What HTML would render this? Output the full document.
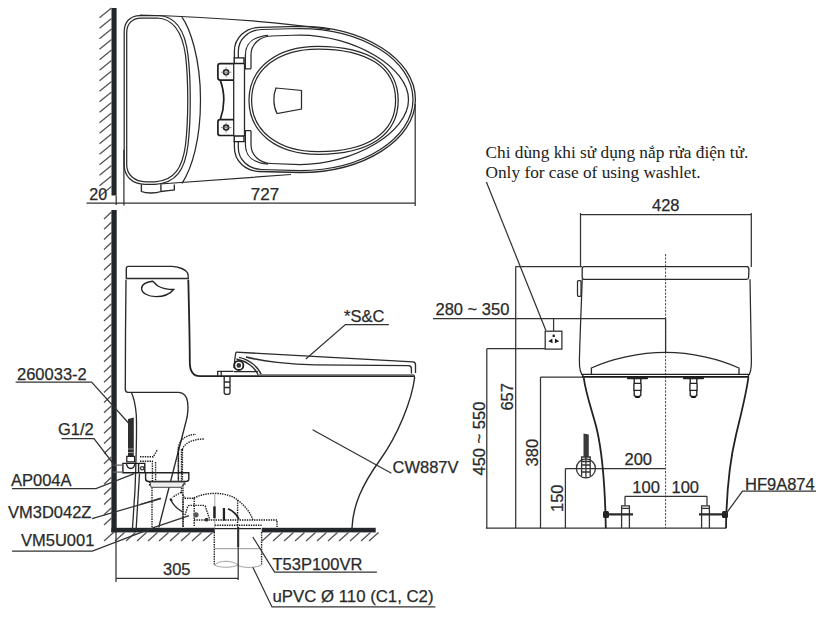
<!DOCTYPE html>
<html><head><meta charset="utf-8"><style>
html,body{margin:0;padding:0;background:#fff;}
svg{display:block;}
text{font-family:"Liberation Sans",sans-serif;fill:#2a2a2a;stroke:#2a2a2a;stroke-width:0.25px;}
.serif{font-family:"Liberation Serif",serif;stroke-width:0;fill:#222;}
</style></head><body>
<svg width="822" height="626" viewBox="0 0 822 626">
<rect width="822" height="626" fill="#fff"/>
<rect x="111.5" y="8" width="5.1" height="187.5" fill="#23262a"/>
<path d="M99.5 17.8L111.5 8.0M99.5 28.3L111.5 18.5M99.5 38.8L111.5 29.0M99.5 49.3L111.5 39.5M99.5 59.8L111.5 50.0M99.5 70.3L111.5 60.5M99.5 80.8L111.5 71.0M99.5 91.3L111.5 81.5M99.5 101.8L111.5 92.0M99.5 112.3L111.5 102.5M99.5 122.8L111.5 113.0M99.5 133.3L111.5 123.5M99.5 143.8L111.5 134.0M99.5 154.3L111.5 144.5M99.5 164.8L111.5 155.0M99.5 175.3L111.5 165.5M99.5 185.8L111.5 176.0M99.5 196.3L111.5 186.5" stroke="#555" stroke-width="1.3"/>
<path d="M86.5 203.2H415M116.2 195.5V205M123.9 150V205.5M415.2 104V206" stroke="#333" stroke-width="1.25"/>
<text x="89.3" y="199.5" font-size="16">20</text>
<text x="250.8" y="200" font-size="17">727</text>
<path d="M124.2 160V32C124.2 22 130 15.5 140 15.5H158C175 16 185 30 188 55C191 80 191 120 188 145C185 170 176 183 155 184.3H145C132 184.3 124.2 176 124.2 165Z" stroke="#2a2a2a" stroke-width="1.25" fill="none"/>
<path d="M126.7 160V33C126.7 24 132 18 141 18H157C172 18.5 182 31 185.5 55C188.5 80 188.5 120 185.5 145C182.5 168 174 181 155 181.8H146C134 181.8 126.7 174 126.7 165Z" stroke="#2a2a2a" stroke-width="1.25" fill="none"/>
<path d="M140 15Q250 18 330 29.6M181.3 16.2C190 28 200.5 58 200.5 100C200.5 140 192 168 182 183.5M160 184L291 174.5" stroke="#2a2a2a" stroke-width="1.25" fill="none"/>
<path d="M141.4 184.6V191.5C146 193.5 156 193.5 160.9 191.5V184.6M160.9 191.5C165 191 170 190.5 174.3 190V184.6" stroke="#2a2a2a" stroke-width="1.35" fill="none"/>
<path d="M234.4 57.900000000000006V51.3C234.4 37.55 245.65 27.8 259.4 27.3L300 26.3C363.73542 26.3 415.4 59.02687 415.4 99.4C415.4 139.77313 363.73542 172.5 300 172.5L259.4 171.5C245.65 171.0 234.4 161.25 234.4 147.5V140.9" stroke="#2a2a2a" stroke-width="1.3" fill="none"/>
<path d="M238.3 58.0V51.5C238.3 38.85 248.65 30.0 261.3 29.5L300 28.5C362.4099 28.5 413 60.286699999999996 413 99.5C413 138.7133 362.4099 170.5 300 170.5L261.3 169.5C248.65 169.0 238.3 160.15 238.3 147.5V141.0" stroke="#2a2a2a" stroke-width="1.25" fill="none"/>
<path d="M251 68.75V55C251 44.0 260.0 36.5 271 36L300 35C354.25 35 408.5 67.375 408.5 99.75C408.5 132.125 354.25 164.5 300 164.5L271 163.5C260.0 163.0 251 155.5 251 144.5V130.75" stroke="#2a2a2a" stroke-width="1.25" fill="none"/>
<path d="M251 68.8H245.4V55C245.4 44 251 37 268 35.3M251 130.7H245.4V144.5C245.4 155.5 251 162.5 268 164.2" stroke="#2a2a2a" stroke-width="1.25" fill="none"/>
<path d="M233.7 63.5V136M244.5 63.5V136" stroke="#2a2a2a" stroke-width="1.3" fill="none"/>
<path d="M234.2 57.9H244V63.5H234.2ZM234.2 136H244V141.6H234.2Z" stroke="#1e1e1e" stroke-width="1.4" fill="none"/>
<path d="M233.7 63.6H220.2Q217.9 63.6 217.9 65.9V77.8Q217.9 80.1 220.2 80.1C222.8 87 223.8 93 223.8 99.8C223.8 106.5 222.8 112.5 220.2 119.7Q217.9 119.7 217.9 122V133.2Q217.9 135.5 220.2 135.5H233.7M220.2 80.1H233.7M220.2 119.7H233.7" stroke="#1e1e1e" stroke-width="1.7" fill="none"/>
<circle cx="226.1" cy="72.2" r="2.5" stroke="#1e1e1e" stroke-width="1.6" fill="none"/><circle cx="226.1" cy="127.6" r="2.5" stroke="#1e1e1e" stroke-width="1.6" fill="none"/>
<path d="M221 72.2H231.5M226.1 67V77.5M221 127.6H231.5M226.1 122.4V132.8" stroke="#666" stroke-width="0.7"/>
<path d="M249 100.3C249 67.96000000000001 276.6 46.4 318 46.4C369.328 46.4 398.2 65.804 398.2 100.3C398.2 134.86 369.328 154.3 318 154.3C276.6 154.3 249 132.7 249 100.3Z" stroke="#2a2a2a" stroke-width="1.25" fill="none"/>
<path d="M251.6 100.3C251.6 69.52 278.15999999999997 49 318 49C367.664 49 395.6 67.46799999999999 395.6 100.3C395.6 133.196 367.664 151.7 318 151.7C278.15999999999997 151.7 251.6 131.14 251.6 100.3Z" stroke="#2a2a2a" stroke-width="1.25" fill="none"/>
<path d="M276 88L301.5 90.5V109L277 113.5C273 106 273 95 276 88Z" stroke="#2a2a2a" stroke-width="1.25" fill="none"/>
<rect x="111.4" y="210" width="5.3" height="322.4" fill="#23262a"/>
<path d="M104.0 219.0L111.5 212.0M104.0 229.2L111.5 222.2M104.0 239.4L111.5 232.4M104.0 249.6L111.5 242.6M104.0 259.8L111.5 252.8M104.0 270.0L111.5 263.0M104.0 280.2L111.5 273.2M104.0 290.4L111.5 283.4M104.0 300.6L111.5 293.6M104.0 310.8L111.5 303.8M104.0 321.0L111.5 314.0M104.0 331.2L111.5 324.2M104.0 341.4L111.5 334.4M104.0 351.6L111.5 344.6M104.0 361.8L111.5 354.8M104.0 372.0L111.5 365.0M104.0 382.2L111.5 375.2M104.0 392.4L111.5 385.4M104.0 402.6L111.5 395.6M104.0 412.8L111.5 405.8M104.0 423.0L111.5 416.0M104.0 433.2L111.5 426.2M104.0 443.4L111.5 436.4M104.0 453.6L111.5 446.6M104.0 463.8L111.5 456.8M104.0 474.0L111.5 467.0M104.0 484.2L111.5 477.2M104.0 494.4L111.5 487.4M104.0 504.6L111.5 497.6M104.0 514.8L111.5 507.8M104.0 525.0L111.5 518.0" stroke="#555" stroke-width="1.3"/>
<rect x="111.4" y="527.8" width="103.4" height="4.6" fill="#23262a"/><rect x="261.7" y="527.8" width="114" height="4.6" fill="#23262a"/>
<path d="M104.0 541L113.5 532.5M115.0 541L124.5 532.5M126.0 541L135.5 532.5M137.0 541L146.5 532.5M148.0 541L157.5 532.5M159.0 541L168.5 532.5M170.0 541L179.5 532.5M181.0 541L190.5 532.5M192.0 541L201.5 532.5M203.0 541L212.5 532.5M262.0 541L271.5 532.5M273.0 541L282.5 532.5M284.0 541L293.5 532.5M295.0 541L304.5 532.5M306.0 541L315.5 532.5M317.0 541L326.5 532.5M328.0 541L337.5 532.5M339.0 541L348.5 532.5M350.0 541L359.5 532.5M361.0 541L370.5 532.5M369.0 541L378.5 532.5" stroke="#555" stroke-width="1.3"/>
<path d="M126.3 278.5V268.5C126.3 267 127 266.4 128.5 266.4H172C180 267 186 270 187.6 273C188.3 275 188.3 277 188.3 278.5Z" stroke="#2a2a2a" stroke-width="1.4" fill="none"/>
<path d="M126 279.8C125.6 310 125.3 360 125.3 389C125.3 391.5 126 392.4 128 392.4H178.8C183 392.6 186.5 395.5 187.6 402C188.5 410 188 414 186.4 420" stroke="#2a2a2a" stroke-width="1.35" fill="none"/>
<path d="M188.3 279.8C189 310 189.8 340 189.8 362C189.8 371 193 376.2 200 376.2H415" stroke="#222" stroke-width="1.8" fill="none"/>
<path d="M152.6 281.2C147 281.5 141.6 284.5 141.6 288.5C141.6 293 148 296.6 156 296.6C163 296.6 170 294 173.7 289.5C169 289.5 163 289 158 286C155 284 154 282 152.6 281.2Z" stroke="#222" stroke-width="1.4" fill="none"/>
<path d="M414.7 377C412 400 398 435 380 460C362 485 353 505 352 528" stroke="#2a2a2a" stroke-width="1.4" fill="none"/>
<path d="M186.4 420L158.7 527.5" stroke="#2a2a2a" stroke-width="1.35" fill="none"/>
<path d="M131.4 392.5C133.5 397 135.5 404 136.3 415C137 430 136.5 450 135 490L132.5 528M139.5 473.6L136.2 528" stroke="#2a2a2a" stroke-width="1.3" fill="none"/>
<path d="M236 352.2L413 361.9Q415.5 362.2 415.5 364.8V373M246 357C262 361 290 364.8 315 364.8L408.5 365.6Q411.4 365.8 411.4 368.5V373.5" stroke="#2a2a2a" stroke-width="1.35" fill="none"/>
<path d="M236 352.2C235 356 234.5 362 234 368M239 357.3C248 359 258 366 261.8 375.5M236.5 359C246 361 255 367 258.5 375.5M234 371.6H258" stroke="#2a2a2a" stroke-width="1.3" fill="none"/>
<path d="M258 374.6H414" stroke="#888" stroke-width="1.4"/>
<circle cx="238.8" cy="365.4" r="4.6" stroke="#1e1e1e" stroke-width="1.8" fill="#fff"/><circle cx="238.8" cy="365.4" r="2.3" fill="#333"/>
<path d="M217.7 376V371.4H233.5M221.2 376V371.4" stroke="#2a2a2a" stroke-width="1.3" fill="none"/>
<path d="M224.2 377V392.5C224.2 395 230 395 230 392.5V377M224.2 382H230M224.2 387.5H230" stroke="#2a2a2a" stroke-width="1.35" fill="none"/>
<path d="M128 419L133.8 417.5V456.5H128Z" fill="#2e2e2e"/>
<path d="M128 449H134M128 452.5H134" stroke="#999" stroke-width="1.0"/>
<path d="M126.8 456.4H134.6V461.9H126.8Z" stroke="#222" stroke-width="1.3" fill="#fff"/>
<path d="M126.3 463.4C127 467 129 468.5 130.7 468.5C132.4 468.5 134.4 467 135 463.4" stroke="#222" stroke-width="1.3" fill="none"/>
<path d="M122.9 463.4H138.6V472.8H122.9ZM138.6 463.4H144.8V472.8H138.6Z" stroke="#1e1e1e" stroke-width="1.4" fill="none"/>
<path d="M112.7 465.2H122.9M112.7 472.1H122.9" stroke="#666" stroke-width="1.25" fill="none"/>
<circle cx="142.2" cy="468.2" r="1.7" stroke="#333" stroke-width="1.25" fill="none"/>
<path d="M145.6 472.7H188.8V479C188.8 481 187 481.5 185 481.5H149C147 481.5 145.6 481 145.6 479Z" stroke="#222" stroke-width="1.4" fill="none"/>
<path d="M149.6 481.5V484.7H184.8V481.5M152 485V527M183 485V527" stroke="#1a1a1a" stroke-width="1.4" stroke-dasharray="1.4 1" fill="none"/>
<path d="M178.4 448C179 440 186 434.5 196 434.4M182.4 449.6C184 443 193 439 204 439M178.4 448V480M182.4 449.6V480" stroke="#1a1a1a" stroke-width="1.4" stroke-dasharray="1.4 1" fill="none"/>
<path d="M140 456.8H153.2L157.6 449.5M140 461.2H152.4V481" stroke="#1a1a1a" stroke-width="1.4" stroke-dasharray="1.4 1" fill="none"/>
<path d="M181.5 487.8V492L172.5 497.3M181.5 492L184.4 498.3H194.5M183 498.7V527.5M194.2 498.3V527M194 498C200 495 207 493.4 214.8 493.4C224 493.4 233 496 237.6 500C245 506 250 512 253 520M237.6 500V528M194 520H277V527M214.8 525.2H261.6M185 515L187.6 506.8Q188.1 505.4 189.6 505.4H203.6Q205 505.4 205.5 506.8L209.8 519.8M155.6 462V481M178.4 449V481M181.5 449V481" stroke="#1a1a1a" stroke-width="1.4" stroke-dasharray="1.4 1" fill="none"/>
<path d="M170.8 499.5C172.5 504 176.5 508.5 183 512.1" stroke="#2a2a2a" stroke-width="1.3" fill="none"/><path d="M170.3 498.5L171.8 501" stroke="#222" stroke-width="2.2"/>
<path d="M150 482H184.6L181.5 487.3H151Z" fill="#eee" stroke="#444" stroke-width="1.0"/>
<path d="M140 504.5L160.8 498.2" stroke="#333" stroke-width="1.3" fill="none"/>
<path d="M214.8 493.4V528" stroke="#666" stroke-width="0.6" fill="none"/>
<rect x="213.2" y="506.4" width="2.5" height="11.8" fill="#222"/><rect x="222.8" y="508" width="2.3" height="12.6" fill="#222"/><circle cx="196" cy="514.8" r="2.6" fill="#555"/><rect x="205.2" y="518" width="2.6" height="3.4" fill="#222"/>
<path d="M228 508.8C233 511 237 515 239 519.5" stroke="#222" stroke-width="1.8" fill="none"/>
<path d="M155 527.2L189 515.6" stroke="#333" stroke-width="1.3" fill="none"/>
<path d="M214.3 532V565M261.6 532V565" stroke="#1a1a1a" stroke-width="1.4" stroke-dasharray="1.4 1" fill="none"/>
<path d="M214.8 528.6H261" stroke="#222" stroke-width="1.3"/>
<path d="M214.8 548.6H261.6" stroke="#aaa" stroke-width="1.25"/>
<path d="M214.3 565C220 560 232 560 238 565C232 568 220 568 214.3 565ZM239 566C245 568 255 568 261.6 565" stroke="#999" stroke-width="0.9" fill="none"/>
<path d="M238.2 527V547" stroke="#2a2a2a" stroke-width="2"/>
<path d="M116 532V582M238.2 532V580M115.5 578.3H238.2" stroke="#333" stroke-width="1.25" fill="none"/>
<text x="163" y="575" font-size="16.5">305</text>
<text x="17" y="379.5" font-size="16.5">260033-2</text>
<path d="M15.6 382H91.6L128.5 423" stroke="#333" stroke-width="1.25" fill="none"/>
<text x="58" y="435.2" font-size="16.5">G1/2</text>
<path d="M61.5 438.5H94L115 466" stroke="#333" stroke-width="1.25" fill="none"/>
<text x="11" y="486.2" font-size="16.5">AP004A</text>
<path d="M12 488.7H96L134.3 473.6" stroke="#333" stroke-width="1.25" fill="none"/>
<text x="8" y="518.1" font-size="16.5">VM3D042Z</text>
<path d="M92 518.6L161 498.6" stroke="#333" stroke-width="1.25" fill="none"/>
<text x="21" y="546" font-size="16.5">VM5U001</text>
<path d="M12 551H92.3L155 527.2" stroke="#333" stroke-width="1.25" fill="none"/>
<text x="344" y="322" font-size="16.5">*S&amp;C</text>
<path d="M388.8 324.5H345.4L305.8 359" stroke="#333" stroke-width="1.25" fill="none"/>
<text x="392.5" y="473.3" font-size="16.5">CW887V</text>
<path d="M312.6 429.8L391.4 473.3" stroke="#333" stroke-width="1.25" fill="none"/>
<text x="272.5" y="569.5" font-size="16.5">T53P100VR</text>
<path d="M376.9 572.2H274.6L252.8 537" stroke="#333" stroke-width="1.25" fill="none"/>
<text x="272.5" y="601.8" font-size="16.8">uPVC Ø 110 (C1, C2)</text>
<path d="M435.4 606.9H272L252.8 567.2" stroke="#333" stroke-width="1.25" fill="none"/>
<text class="serif" x="485.5" y="157.5" font-size="17.3">Chi dùng khi sử dụng nắp rửa điện tử.</text>
<text class="serif" x="485.5" y="177.5" font-size="17.3">Only for case of using washlet.</text>
<path d="M486.4 182L545.9 330.5" stroke="#333" stroke-width="1.25" fill="none"/>
<path d="M580.3 214.6H751.4M580.5 213V267M751.3 213V267" stroke="#333" stroke-width="1.25" fill="none"/>
<text x="652" y="211" font-size="16.5">428</text>
<path d="M515.7 266.5H582M515.7 266.5V528.2M486.8 348.7H545.2M486.8 348.7V528.2M540.5 377.1H583M540.5 377.1V528.2M565.4 468.5H665.4M565.4 468.5V528.2M485.9 528.2H726" stroke="#333" stroke-width="1.25" fill="none"/>
<path d="M433 318.5H553.6V331.2M553.6 318.5H557M553.6 318.5H665.6" stroke="#333" stroke-width="1.25" fill="none"/>
<text x="435.5" y="315.3" font-size="16.5">280 ~ 350</text>
<text x="0" y="0" font-size="16.5" transform="translate(485.3 475.5) rotate(-90)">450 ~ 550</text>
<text x="0" y="0" font-size="16.5" transform="translate(513.2 410.6) rotate(-90)">657</text>
<text x="0" y="0" font-size="16.5" transform="translate(538 466.4) rotate(-90)">380</text>
<text x="0" y="0" font-size="16.5" transform="translate(563.2 512) rotate(-90)">150</text>
<rect x="545.2" y="331.2" width="16.7" height="17.9" stroke="#333" stroke-width="1.3" fill="#fff"/>
<rect x="552.6" y="334.6" width="2.2" height="2.4" fill="#1a1a1a"/><path d="M548.3 341.2L552.3 338.6L552.6 343.2Z" fill="#1a1a1a"/><path d="M559.1 341.2L555.1 338.6L554.8 343.2Z" fill="#1a1a1a"/>
<path d="M665.6 318.5V352.5" stroke="#333" stroke-width="1.3"/>
<path d="M665.6 254V528" stroke="#333" stroke-width="0.9" stroke-dasharray="2.2 1.3" fill="none"/>
<path d="M584 266.7H747C748.5 266.8 749 268 748.9 270L748.6 277.5C748.5 279 748 279.3 746.5 279.3H584C582.7 279.3 582.2 278.5 582.2 277V269C582.2 267.4 582.7 266.7 584 266.7Z" stroke="#2a2a2a" stroke-width="1.3" fill="none"/>
<path d="M582.2 279.3C581.2 310 579.8 340 579.4 360C579.2 369 580.5 374 583.5 376.3M750 279.3C750.5 310 751.2 340 751.4 360C751.5 369 750.5 374 748 376.3" stroke="#2a2a2a" stroke-width="1.25" fill="none"/>
<rect x="577.5" y="280.5" width="3.5" height="15.8" rx="1" stroke="#2a2a2a" stroke-width="1.25" fill="none"/>
<path d="M591.4 374.5V368C610 359 640 352.3 665.6 352.3C691 352.3 720 359 739 368V374.5" stroke="#2a2a2a" stroke-width="1.3" fill="none"/>
<path d="M581 374.4H749.7" stroke="#222" stroke-width="1.3"/><path d="M582 376.9H749" stroke="#1a1a1a" stroke-width="1.7"/>
<path d="M583.7 377.5C586 395 592 410 597 430C602 452 605 480 605.8 528.2M748.4 377.5C746 395 742 410 736 435C730 460 726.5 490 726 528.2" stroke="#222" stroke-width="1.8" fill="none"/>
<path d="M628.0 378.2H647.0" stroke="#222" stroke-width="2.2" stroke-linecap="round"/>
<path d="M634.2 379V383.3H640.8V379M633.9 383.3V390.3H641.1V383.3M634.2 390.3V395.5Q637.5 398 640.8 395.5V390.3" stroke="#222" stroke-width="1.35" fill="none"/>
<path d="M635.0 396.3Q637.5 398.3 640.0 396.3" stroke="#111" stroke-width="1.6" fill="none"/>
<path d="M684.0 378.2H703.0" stroke="#222" stroke-width="2.2" stroke-linecap="round"/>
<path d="M690.2 379V383.3H696.8V379M689.9 383.3V390.3H697.1V383.3M690.2 390.3V395.5Q693.5 398 696.8 395.5V390.3" stroke="#222" stroke-width="1.35" fill="none"/>
<path d="M691.0 396.3Q693.5 398.3 696.0 396.3" stroke="#111" stroke-width="1.6" fill="none"/>
<path d="M621.6 528.2V505.8H629.4V528.2M701.6 528.2V505.8H709.4V528.2M621.6 508.3H629.4M701.6 508.3H709.4" stroke="#333" stroke-width="1.3" fill="none"/>
<path d="M606 514.4H633M699 514.4H724.5" stroke="#2a2a2a" stroke-width="2.2" fill="none"/>
<rect x="603" y="511" width="6" height="7" rx="1.5" fill="#222"/><rect x="722" y="511" width="6" height="7" rx="1.5" fill="#222"/>
<text x="624.5" y="465" font-size="16.5">200</text>
<path d="M625 496.3H707M625 496.3V505.8M707 496.3V505.8" stroke="#333" stroke-width="1.25" fill="none"/>
<text x="632.3" y="493.3" font-size="16.5">100</text>
<text x="671.5" y="493.3" font-size="16.5">100</text>
<circle cx="585.9" cy="468.4" r="9.5" stroke="#333" stroke-width="1.3" fill="none"/>
<path d="M583.5 433.5L588.8 434.5V457H583.5Z" fill="#3a3a3a"/>
<path d="M581.6 457H590.2V461.5H581.6ZM581.6 461.5V476M590.2 461.5V476M581.6 465H590.2M581.6 472H590.2M585.9 457V478" stroke="#333" stroke-width="1.3" fill="none"/>
<text x="745" y="490" font-size="16.5">HF9A874</text>
<path d="M816 491.2H742.5L725.5 514.4" stroke="#333" stroke-width="1.25" fill="none"/>
</svg></body></html>
